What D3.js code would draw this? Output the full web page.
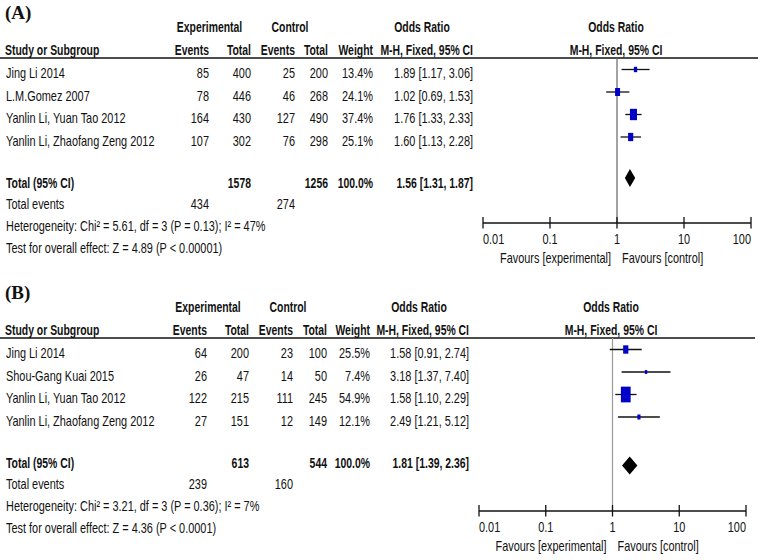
<!DOCTYPE html>
<html><head><meta charset="utf-8">
<script src="https://cdn.jsdelivr.net/npm/d3@7"></script>
<style>html,body{margin:0;padding:0;background:#fff;}svg{display:block;}</style>
</head><body>
<script>
// ---------- DATA ----------
const panelLabels = ["(A)", "(B)"];

const studiesA = ["Jing Li 2014", "L.M.Gomez 2007", "Yanlin Li, Yuan Tao 2012", "Yanlin Li, Zhaofang Zeng 2012"];
const expEventsA = [85, 78, 164, 107];
const expTotalA = [400, 446, 430, 302];
const ctrlEventsA = [25, 46, 127, 76];
const ctrlTotalA = [200, 268, 490, 298];
const weightA = [13.4, 24.1, 37.4, 25.1];
const orA = [1.89, 1.02, 1.76, 1.60];
const lowerA = [1.17, 0.69, 1.33, 1.13];
const upperA = [3.06, 1.53, 2.33, 2.28];
const pooledA = {expTotal: 1578, ctrlTotal: 1256, weight: 100.0, or: 1.56, lower: 1.31, upper: 1.87, expEvents: 434, ctrlEvents: 274};
const hetA = "Heterogeneity: Chi\u00B2 = 5.61, df = 3 (P = 0.13); I\u00B2 = 47%";
const testA = "Test for overall effect: Z = 4.89 (P < 0.00001)";

const studiesB = ["Jing Li 2014", "Shou-Gang Kuai 2015", "Yanlin Li, Yuan Tao 2012", "Yanlin Li, Zhaofang Zeng 2012"];
const expEventsB = [64, 26, 122, 27];
const expTotalB = [200, 47, 215, 151];
const ctrlEventsB = [23, 14, 111, 12];
const ctrlTotalB = [100, 50, 245, 149];
const weightB = [25.5, 7.4, 54.9, 12.1];
const orB = [1.58, 3.18, 1.58, 2.49];
const lowerB = [0.91, 1.37, 1.10, 1.21];
const upperB = [2.74, 7.40, 2.29, 5.12];
const pooledB = {expTotal: 613, ctrlTotal: 544, weight: 100.0, or: 1.81, lower: 1.39, upper: 2.36, expEvents: 239, ctrlEvents: 160};
const hetB = "Heterogeneity: Chi\u00B2 = 3.21, df = 3 (P = 0.36); I\u00B2 = 7%";
const testB = "Test for overall effect: Z = 4.36 (P < 0.0001)";

const tickValues = [0.01, 0.1, 1, 10, 100];
const tickLabels = ["0.01", "0.1", "1", "10", "100"];
const favourLeft = "Favours [experimental]";
const favourRight = "Favours [control]";

// ---------- LAYOUT ----------
const W = 761, H = 560;
const svg = d3.select("body").append("svg").attr("width", W).attr("height", H);
const FONT = "'Liberation Sans', Arial, sans-serif";
const SQUARE = "#0000c8";
const REG_SX = 0.78, BOLD_SX = 0.745;

function txt(g, x, y, s, o = {}) {
  return g.append("text")
    .attr("transform", `translate(${x},${y}) scale(${o.sx || (o.bold ? BOLD_SX : REG_SX)},1)`)
    .attr("text-anchor", o.anchor || "start")
    .attr("font-family", o.family || FONT)
    .attr("font-size", o.size || 14)
    .attr("font-weight", o.bold ? "bold" : "normal")
    .attr("fill", "#111")
    .text(s);
}
const fmt2 = d3.format(".2f");
const fmtW = d => d3.format(".1f")(d) + "%";
const orText = (o, l, u) => `${fmt2(o)} [${fmt2(l)}, ${fmt2(u)}]`;

const panels = [
  {label: panelLabels[0], studies: studiesA, ee: expEventsA, et: expTotalA, ce: ctrlEventsA, ct: ctrlTotalA,
   w: weightA, or: orA, lo: lowerA, up: upperA, pooled: pooledA, het: hetA, test: testA,
   top: 0, cols: [209, 251, 295, 328, 373, 473], expC: 209.5, ctrlC: 290, orC: 422, plotC: 616,
   plotX: [483, 751], axisY: 223, lineEnd: 758, diamondY: 178, refColor: "#666"},
  {label: panelLabels[1], studies: studiesB, ee: expEventsB, et: expTotalB, ce: ctrlEventsB, ct: ctrlTotalB,
   w: weightB, or: orB, lo: lowerB, up: upperB, pooled: pooledB, het: hetB, test: testB,
   top: 280, cols: [207, 249, 293, 327, 370, 469], expC: 208, ctrlC: 288, orC: 419, plotC: 611,
   plotX: [479, 746], axisY: 511, lineEnd: 755, diamondY: 465.5, refColor: "#999"}
];

const rowBase = [78, 100.5, 123, 145.5];

panels.forEach(p => {
  const g = svg.append("g");
  const T = p.top;
  const x = d3.scaleLog().domain([0.01, 100]).range(p.plotX);

  // panel label
  txt(g, 5, T + 18.5, p.label, {family: "'Liberation Serif', 'Times New Roman', serif", size: 19, bold: true, sx: 1});

  // headers
  txt(g, p.expC, T + 31.5, "Experimental", {anchor: "middle", bold: true});
  txt(g, p.ctrlC, T + 31.5, "Control", {anchor: "middle", bold: true});
  txt(g, p.orC, T + 31.5, "Odds Ratio", {anchor: "middle", bold: true});
  txt(g, p.plotC, T + 31.5, "Odds Ratio", {anchor: "middle", bold: true});
  txt(g, 5, T + 54.5, "Study or Subgroup", {bold: true});
  ["Events", "Total", "Events", "Total", "Weight"].forEach((h, i) =>
    txt(g, p.cols[i], T + 54.5, h, {anchor: "end", bold: true}));
  txt(g, p.cols[5], T + 54.5, "M-H, Fixed, 95% CI", {anchor: "end", bold: true});
  txt(g, p.plotC, T + 54.5, "M-H, Fixed, 95% CI", {anchor: "middle", bold: true});

  // header rule
  g.append("line").attr("x1", 0).attr("x2", p.lineEnd).attr("y1", T + 58).attr("y2", T + 58)
    .attr("stroke", "#111").attr("stroke-width", 1.6);

  // reference line at OR = 1
  g.append("line").attr("x1", x(1)).attr("x2", x(1)).attr("y1", T + 58).attr("y2", p.axisY)
    .attr("stroke", p.refColor).attr("stroke-width", 1.2);

  // study rows
  p.studies.forEach((s, i) => {
    const yb = T + rowBase[i];
    txt(g, 6, yb, s);
    txt(g, p.cols[0], yb, p.ee[i], {anchor: "end"});
    txt(g, p.cols[1], yb, p.et[i], {anchor: "end"});
    txt(g, p.cols[2], yb, p.ce[i], {anchor: "end"});
    txt(g, p.cols[3], yb, p.ct[i], {anchor: "end"});
    txt(g, p.cols[4], yb, fmtW(p.w[i]), {anchor: "end"});
    txt(g, p.cols[5], yb, orText(p.or[i], p.lo[i], p.up[i]), {anchor: "end"});

    const yc = yb - 8.5;
    g.append("line").attr("x1", x(p.lo[i])).attr("x2", x(p.up[i])).attr("y1", yc).attr("y2", yc)
      .attr("stroke", "#111").attr("stroke-width", 1.3);
    const h = 2 + 0.25 * p.w[i], w = 0.62 * h;
    g.append("rect").attr("x", x(p.or[i]) - w / 2).attr("y", yc - h / 2).attr("width", w).attr("height", h)
      .attr("fill", SQUARE);
  });

  // totals
  const P = p.pooled;
  txt(g, 6, T + 188, "Total (95% CI)", {bold: true});
  txt(g, p.cols[1], T + 188, P.expTotal, {anchor: "end", bold: true});
  txt(g, p.cols[3], T + 188, P.ctrlTotal, {anchor: "end", bold: true});
  txt(g, p.cols[4], T + 188, fmtW(P.weight), {anchor: "end", bold: true});
  txt(g, p.cols[5], T + 188, orText(P.or, P.lower, P.upper), {anchor: "end", bold: true});
  txt(g, 6, T + 209, "Total events");
  txt(g, p.cols[0], T + 209, P.expEvents, {anchor: "end"});
  txt(g, p.cols[2], T + 209, P.ctrlEvents, {anchor: "end"});
  txt(g, 6, T + 231, p.het);
  txt(g, 6, T + 252.5, p.test);

  // diamond
  const dy = p.diamondY, dh = 9;
  g.append("path")
    .attr("d", `M${x(P.lower)},${dy} L${x(P.or)},${dy - dh} L${x(P.upper)},${dy} L${x(P.or)},${dy + dh} Z`)
    .attr("fill", "#000");

  // axis
  const ax = g.append("g");
  ax.append("line").attr("x1", p.plotX[0]).attr("x2", p.plotX[1]).attr("y1", p.axisY).attr("y2", p.axisY)
    .attr("stroke", "#111").attr("stroke-width", 1.6);
  tickValues.forEach((v, i) => {
    ax.append("line").attr("x1", x(v)).attr("x2", x(v)).attr("y1", p.axisY - 6).attr("y2", p.axisY + 5.5)
      .attr("stroke", "#111").attr("stroke-width", 1.3);
    const anchor = i === 0 ? "start" : (i === tickValues.length - 1 ? "end" : "middle");
    txt(ax, x(v), p.axisY + 21, tickLabels[i], {anchor});
  });
  txt(ax, x(1) - 6, p.axisY + 40, favourLeft, {anchor: "end"});
  txt(ax, x(1) + 5, p.axisY + 40, favourRight, {anchor: "start"});
});
</script>
</body></html>
